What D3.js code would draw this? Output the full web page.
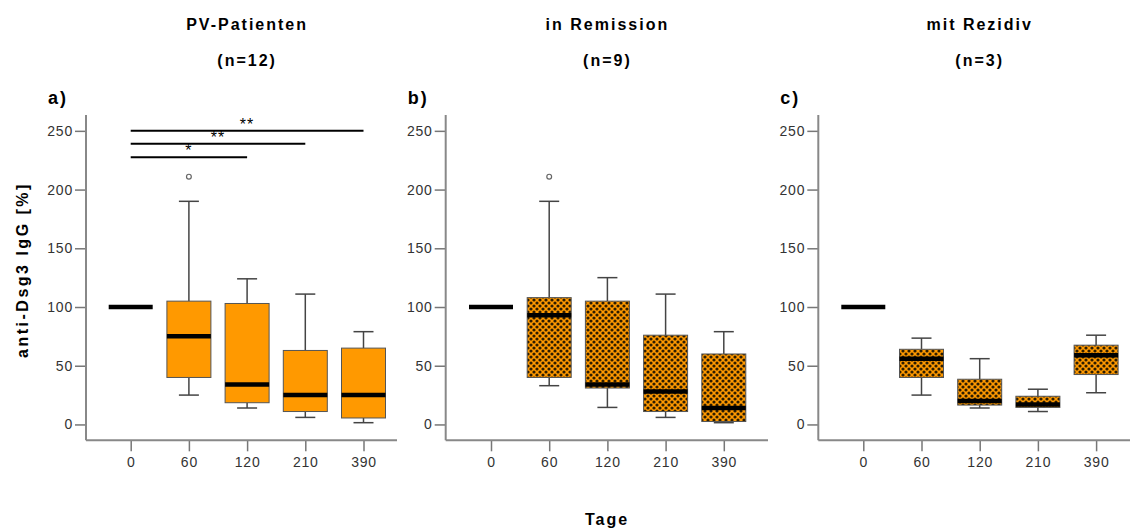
<!DOCTYPE html>
<html><head><meta charset="utf-8">
<script src="https://cdn.jsdelivr.net/npm/d3@7"></script>
<style>body{margin:0;background:#fff}svg{display:block}</style>
</head><body>
<svg id="c" width="1132" height="532"></svg>
<script>
// ---- data ----
const categories = ["0", "60", "120", "210", "390"];
const yTicks = [0, 50, 100, 150, 200, 250];
const panelTitles = ["PV-Patienten", "in Remission", "mit Rezidiv"];
const panelN = ["(n=12)", "(n=9)", "(n=3)"];
const panelLetters = ["a)", "b)", "c)"];
// box stats per category: [lo, q1, median, q3, hi]
const statsA = [[100,100,100,100,100],[25,40,75,105,190],[14,18.5,34,103,124],[6,11,25,63,111],[1.5,5.5,25,65,79]];
const statsB = [[100,100,100,100,100],[33,40,93,108,190],[14.5,31,34,105,125],[6,11,28,76,111],[1.5,2.5,14,60,79]];
const statsC = [[100,100,100,100,100],[25,40,56,64,73.5],[14,16.5,20,38.5,56],[11,14.5,17,24,30],[27,42.5,59,67.5,76]];
const outliersA = [[], [211], [], [], []];
const outliersB = [[], [211], [], [], []];
const outliersC = [[], [], [], [], []];
// significance brackets (panel a): from category, to category, level, label
const brackets = [["0","390",250,"**"],["0","210",239,"**"],["0","120",227.5,"*"]];

// ---- layout ----
const svg = d3.select("#c");
const font = "'Liberation Sans', Arial, sans-serif";
const panels = [
  {axisX: 86, first: 130.7, end: 397, stats: statsA, out: outliersA, pattern: false},
  {axisX: 445.7, first: 491, end: 768, stats: statsB, out: outliersB, pattern: true},
  {axisX: 818.3, first: 863.3, end: 1130, stats: statsC, out: outliersC, pattern: true}
];
const step = 58.2;
const y = d3.scaleLinear().domain([-13.5, 263.5]).range([440.3, 115]);
const orange = "#FF9900";

const defs = svg.append("defs");
const pat = defs.append("pattern").attr("id", "dots").attr("width", 6).attr("height", 6)
  .attr("patternUnits", "userSpaceOnUse");
pat.append("rect").attr("width", 6).attr("height", 6).attr("fill", orange);
[[0,0],[6,0],[0,6],[6,6],[3,3]].forEach(([cx,cy]) =>
  pat.append("circle").attr("cx", cx).attr("cy", cy).attr("r", 1.6).attr("fill", "#2e1d00"));

panels.forEach((p, pi) => {
  const x = d3.scalePoint().domain(categories).range([p.first, p.first + 4 * step]);
  const g = svg.append("g");

  // y axis
  const ya = g.append("g").attr("transform", `translate(${p.axisX},0)`)
    .call(d3.axisLeft(y).tickValues(yTicks).tickSize(11).tickPadding(2).tickFormat(d3.format("d")));
  ya.select(".domain").remove();
  ya.selectAll(".tick line").attr("stroke", "#777").attr("stroke-width", 1.5);
  ya.selectAll(".tick text").attr("fill", "#333").style("font-family", font).style("font-size", "14px")
    .style("letter-spacing", "0.8px");
  g.append("line").attr("x1", p.axisX).attr("x2", p.axisX).attr("y1", y(263.5)).attr("y2", y(-13.5))
    .attr("stroke", "#888").attr("stroke-width", 2);

  // x axis
  const xa = g.append("g").attr("transform", `translate(0,${y(-13.5)})`)
    .call(d3.axisBottom(x).tickSize(11).tickPadding(6));
  xa.select(".domain").remove();
  xa.selectAll(".tick line").attr("stroke", "#777").attr("stroke-width", 1.5);
  xa.selectAll(".tick text").attr("fill", "#333").style("font-family", font).style("font-size", "14px")
    .style("letter-spacing", "0.8px");
  g.append("line").attr("x1", p.axisX).attr("x2", p.end).attr("y1", y(-13.5)).attr("y2", y(-13.5))
    .attr("stroke", "#888").attr("stroke-width", 2);

  // boxes
  const bw = 44, cw = 20;
  p.stats.forEach((s, i) => {
    const cx = x(categories[i]);
    const [lo, q1, md, q3, hi] = s;
    if (hi > q3) {
      g.append("line").attr("x1", cx).attr("x2", cx).attr("y1", y(q3)).attr("y2", y(hi)).attr("stroke", "#444").attr("stroke-width", 1.5);
      g.append("line").attr("x1", cx - cw/2).attr("x2", cx + cw/2).attr("y1", y(hi)).attr("y2", y(hi)).attr("stroke", "#444").attr("stroke-width", 1.5);
    }
    if (lo < q1) {
      g.append("line").attr("x1", cx).attr("x2", cx).attr("y1", y(q1)).attr("y2", y(lo)).attr("stroke", "#444").attr("stroke-width", 1.5);
      g.append("line").attr("x1", cx - cw/2).attr("x2", cx + cw/2).attr("y1", y(lo)).attr("y2", y(lo)).attr("stroke", "#444").attr("stroke-width", 1.5);
    }
    if (q3 > q1) {
      g.append("rect").attr("x", cx - bw/2).attr("y", y(q3)).attr("width", bw).attr("height", y(q1) - y(q3))
        .attr("fill", p.pattern ? "url(#dots)" : orange).attr("stroke", "#555").attr("stroke-width", 1);
    }
    g.append("line").attr("x1", cx - bw/2).attr("x2", cx + bw/2).attr("y1", y(md)).attr("y2", y(md))
      .attr("stroke", "#000").attr("stroke-width", 4.5);
    p.out[i].forEach(v => {
      g.append("circle").attr("cx", cx).attr("cy", y(v)).attr("r", 2.4).attr("fill", "#fff")
        .attr("stroke", "#666").attr("stroke-width", 1.2);
    });
  });

  // titles
  const tx = x("120");
  g.append("text").attr("x", tx).attr("y", 30).attr("text-anchor", "middle").text(panelTitles[pi])
    .style("font-family", font).style("font-weight", "bold").style("font-size", "16px").style("letter-spacing", "2px");
  g.append("text").attr("x", tx).attr("y", 66).attr("text-anchor", "middle").text(panelN[pi])
    .style("font-family", font).style("font-weight", "bold").style("font-size", "16px").style("letter-spacing", "2px");
  g.append("text").attr("x", p.axisX - 38).attr("y", 104).text(panelLetters[pi])
    .style("font-family", font).style("font-weight", "bold").style("font-size", "18px").style("letter-spacing", "2px");

  if (pi === 0) {
    brackets.forEach(([a, b, lvl, lab]) => {
      g.append("line").attr("x1", x(a)).attr("x2", x(b)).attr("y1", y(lvl)).attr("y2", y(lvl))
        .attr("stroke", "#000").attr("stroke-width", 2);
      g.append("text").attr("x", (x(a) + x(b)) / 2).attr("y", y(lvl) - 1).attr("text-anchor", "middle").text(lab)
        .style("font-family", font).style("font-size", "16px").style("letter-spacing", "1px");
    });
  }
});

// global labels
svg.append("text").attr("transform", "translate(28,270) rotate(-90)").attr("text-anchor", "middle")
  .text("anti-Dsg3 IgG [%]").style("font-family", font).style("font-weight", "bold").style("font-size", "16px")
  .style("letter-spacing", "2.5px");
svg.append("text").attr("x", 607).attr("y", 525).attr("text-anchor", "middle").text("Tage")
  .style("font-family", font).style("font-weight", "bold").style("font-size", "16px").style("letter-spacing", "2px");
</script>
</body></html>
